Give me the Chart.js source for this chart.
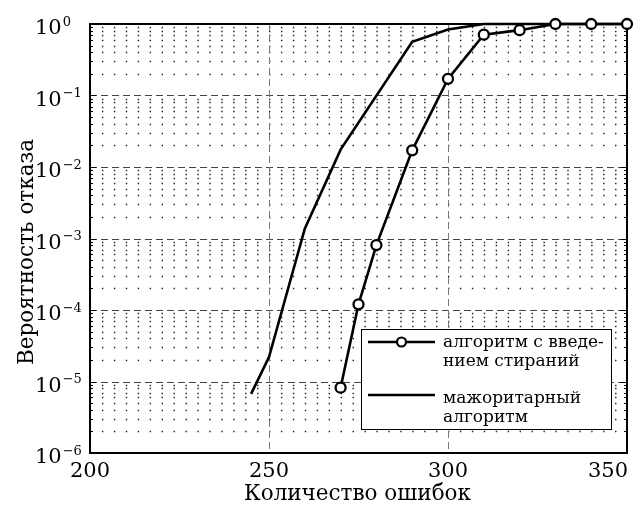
<!DOCTYPE html>
<html>
<head>
<meta charset="utf-8">
<script src="https://cdn.jsdelivr.net/npm/chart.js@4.4.1/dist/chart.umd.min.js"></script>
<style>
  html, body { margin: 0; padding: 0; background: #fff; }
</style>
</head>
<body>
<canvas id="chart" width="635" height="505"></canvas>
<script>
// ── data ─────────────────────────────────────────────────────────────────────
const errorsErasure = [270, 275, 280, 290, 300, 310, 320, 330, 340, 350];
const failErasure   = [8.2e-6, 1.2e-4, 8.1e-4, 0.0171, 0.171, 0.71, 0.82, 1, 1, 1];

const errorsMajority = [245, 250, 260, 270, 290, 300, 310, 350];
const failMajority   = [6.7e-6, 2.2e-5, 1.37e-3, 0.0175, 0.565, 0.84, 1, 1];

const xTickValues = [200, 250, 300, 350];
const yDecades = [0, -1, -2, -3, -4, -5, -6];

const xTitle = 'Количество ошибок';
const yTitle = 'Вероятность отказа';
const legendLines = [['алгоритм с введе-', 'нием стираний'], ['мажоритарный', 'алгоритм']];

const SERIF = '"DejaVu Serif", "Liberation Serif", serif';

// ── grid: dashed majors, dotted minors (dots sit on the minor columns) ──────
const gridPlugin = {
  id: 'matGrid',
  beforeDatasetsDraw(chart) {
    const { ctx, chartArea: a, scales: { x, y } } = chart;
    ctx.save();

    const colStep = x.getPixelForValue(200 + 10 / 3) - x.getPixelForValue(200);
    ctx.strokeStyle = '#222';
    ctx.lineWidth = 1.4;
    ctx.setLineDash([1.4, colStep - 1.4]);
    for (let e = -6; e < 0; e++) {
      for (let m = 2; m <= 9; m++) {
        const py = Math.round(y.getPixelForValue(m * Math.pow(10, e))) + 0.5;
        ctx.beginPath(); ctx.moveTo(a.left, py); ctx.lineTo(a.right, py); ctx.stroke();
      }
    }

    // major rows
    ctx.lineWidth = 1;
    ctx.strokeStyle = '#444';
    ctx.setLineDash([7, 4]);
    for (let e = -5; e <= -1; e++) {
      const py = Math.round(y.getPixelForValue(Math.pow(10, e))) + 0.5;
      ctx.beginPath(); ctx.moveTo(a.left, py); ctx.lineTo(a.right, py); ctx.stroke();
    }
    // major columns
    ctx.strokeStyle = '#777';
    [250, 300].forEach(v => {
      const px = Math.round(x.getPixelForValue(v)) + 0.5;
      ctx.beginPath(); ctx.moveTo(px, a.top); ctx.lineTo(px, a.bottom); ctx.stroke();
    });

    // inward tick marks on left / right
    ctx.setLineDash([]);
    ctx.strokeStyle = '#000';
    for (let e = -6; e <= 0; e++) {
      for (let m = 1; m <= 9; m++) {
        if (e === 0 && m > 1) break;
        const py = Math.round(y.getPixelForValue(m * Math.pow(10, e))) + 0.5;
        const len = m === 1 ? 6 : 3;
        ctx.beginPath();
        ctx.moveTo(a.left, py); ctx.lineTo(a.left + len, py);
        ctx.moveTo(a.right, py); ctx.lineTo(a.right - len, py);
        ctx.stroke();
      }
    }

    // frame
    ctx.lineWidth = 2;
    ctx.strokeRect(a.left, a.top, a.right - a.left, a.bottom - a.top);
    ctx.restore();
  }
};

// ── tick labels, titles and the two-line legend ─────────────────────────────
const textPlugin = {
  id: 'matText',
  afterDraw(chart) {
    const { ctx, chartArea: a, scales: { x, y } } = chart;
    ctx.save();
    ctx.fillStyle = '#000';

    // x tick labels
    ctx.font = '21px ' + SERIF;
    ctx.textBaseline = 'alphabetic';
    xTickValues.forEach((v, i) => {
      const px = x.getPixelForValue(v);
      if (i === xTickValues.length - 1) { ctx.textAlign = 'right'; ctx.fillText(String(v), a.right + 1, 477); }
      else { ctx.textAlign = 'center'; ctx.fillText(String(v), px, 477); }
    });

    // y tick labels: 10 with raised exponent
    ctx.textAlign = 'left';
    yDecades.forEach(e => {
      const py = y.getPixelForValue(Math.pow(10, e));
      ctx.font = '21px ' + SERIF;
      ctx.fillText('10', 35, py + 10);
      const w = ctx.measureText('10').width;
      ctx.font = '13px ' + SERIF;
      ctx.fillText(e === 0 ? '0' : '\u2212' + (-e), 35 + w + 1, py + 1.5);
    });

    // axis titles
    ctx.font = '21.5px ' + SERIF;
    ctx.textAlign = 'center';
    ctx.fillText(xTitle, (a.left + a.right) / 2 - 1, 500);
    ctx.save();
    ctx.translate(33, 252);
    ctx.rotate(-Math.PI / 2);
    ctx.fillText(yTitle, 0, 0);
    ctx.restore();

    // legend
    const bx = a.right - 266, by = a.bottom - 124, bw = 250, bh = 100;
    ctx.fillStyle = '#fff';
    ctx.fillRect(bx, by, bw, bh);
    ctx.strokeStyle = '#000';
    ctx.lineWidth = 1;
    ctx.strokeRect(bx + 0.5, by + 0.5, bw, bh);

    const sampleY = [by + 13, by + 66];
    const textBase = [[by + 17.5, by + 36.5], [by + 73.5, by + 92.5]];
    ctx.lineWidth = 2.6;
    sampleY.forEach((sy, i) => {
      ctx.beginPath(); ctx.moveTo(bx + 7, sy); ctx.lineTo(bx + 74, sy); ctx.stroke();
      if (i === 0) {
        ctx.lineWidth = 2.2;
        ctx.fillStyle = '#fff';
        ctx.beginPath(); ctx.arc(bx + 40.5, sy, 4.5, 0, Math.PI * 2); ctx.fill(); ctx.stroke();
        ctx.lineWidth = 2.6;
      }
    });
    ctx.fillStyle = '#000';
    ctx.font = '17px ' + SERIF;
    ctx.textAlign = 'left';
    legendLines.forEach((lines, i) => {
      lines.forEach((t, j) => ctx.fillText(t, bx + 82, textBase[i][j]));
    });
    ctx.restore();
  }
};

const toPoints = (xs, ys) => xs.map((v, i) => ({ x: v, y: ys[i] }));

new Chart(document.getElementById('chart').getContext('2d'), {
  type: 'line',
  data: {
    datasets: [
      { label: 'erasure', data: toPoints(errorsErasure, failErasure), borderColor: '#000', borderWidth: 2.6,
        pointRadius: 5, pointBorderWidth: 2.3, pointBorderColor: '#000', pointBackgroundColor: '#fff', tension: 0, clip: false },
      { label: 'majority', data: toPoints(errorsMajority, failMajority), borderColor: '#000', borderWidth: 2.6,
        pointRadius: 0, tension: 0, clip: 3 }
    ]
  },
  options: {
    responsive: false, animation: false, devicePixelRatio: 1,
    layout: { padding: { top: 24, right: 8, left: 0, bottom: 0 } },
    plugins: { legend: { display: false }, tooltip: { enabled: false } },
    scales: {
      x: { type: 'linear', min: 200, max: 350, grid: { display: false }, ticks: { display: false },
        border: { display: false }, afterFit: s => { s.height = 52; } },
      y: { type: 'logarithmic', min: 1e-6, max: 1, grid: { display: false }, ticks: { display: false },
        border: { display: false }, afterFit: s => { s.width = 90; } }
    }
  },
  plugins: [gridPlugin, textPlugin]
});
</script>
</body>
</html>
